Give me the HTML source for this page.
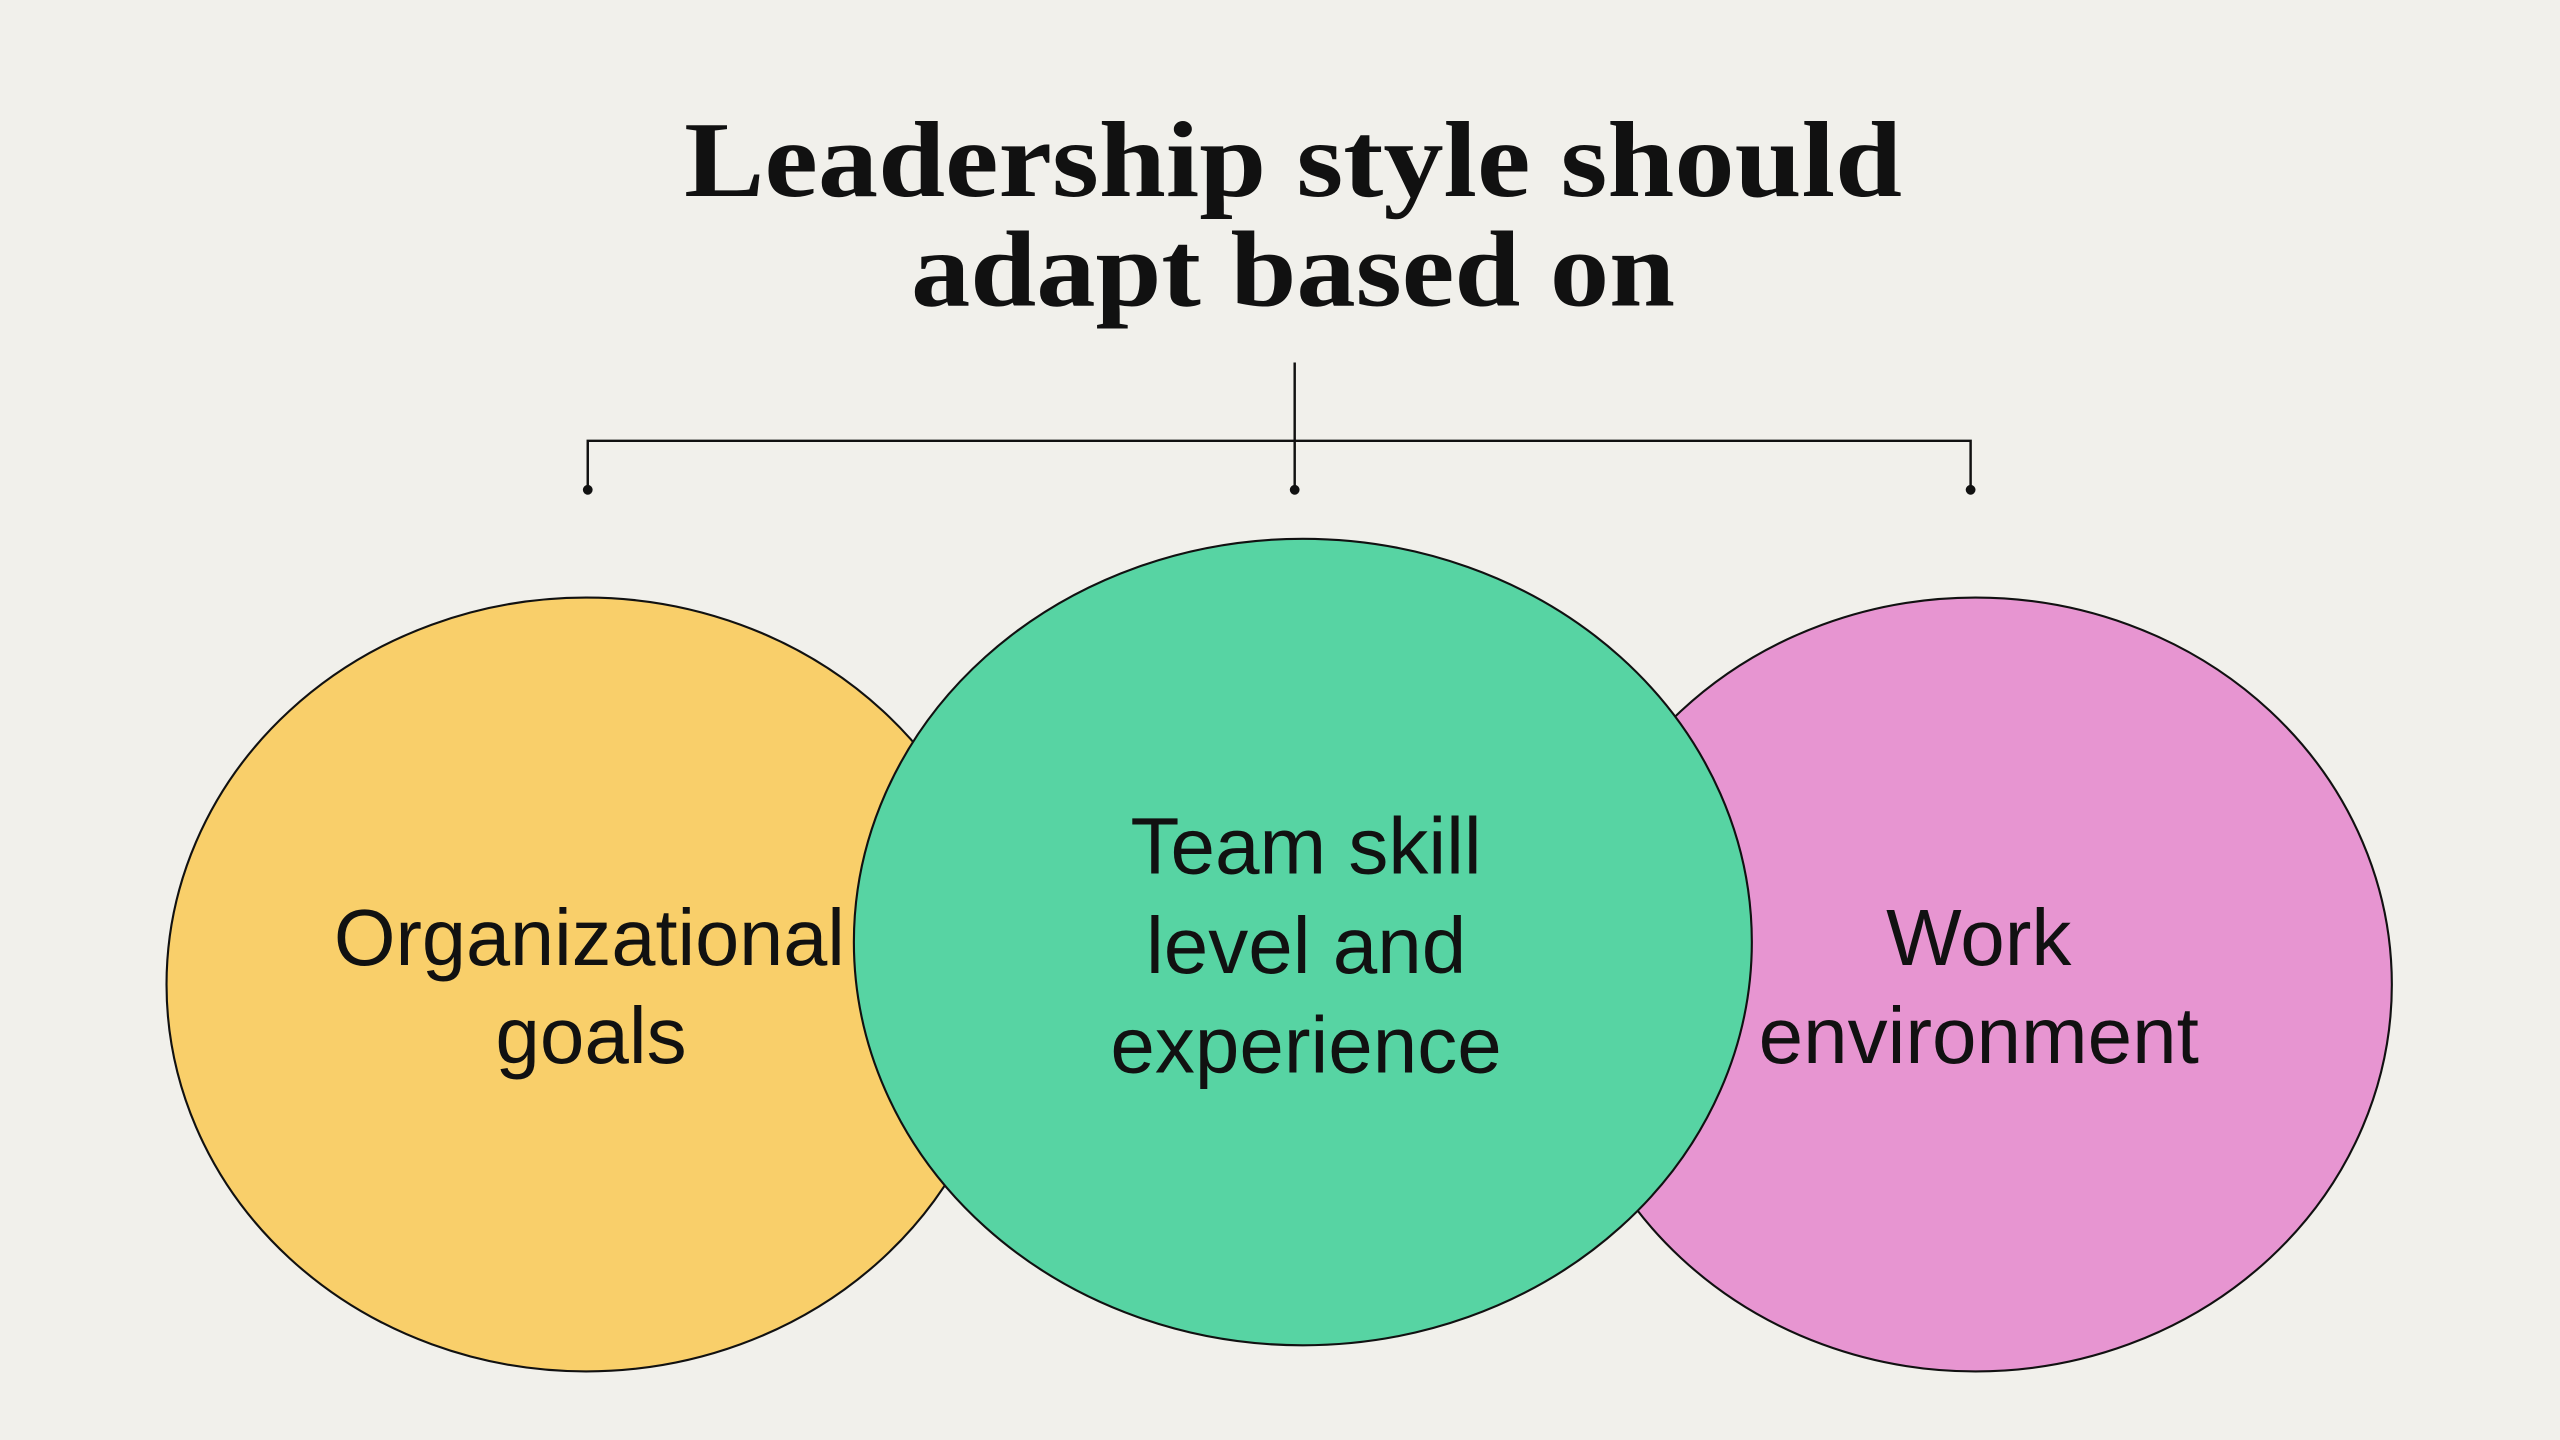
<!DOCTYPE html>
<html><head><meta charset="utf-8"><style>
html,body{margin:0;padding:0;background:#F1F0EB;}
svg{display:block;}
</style></head><body>
<svg width="2560" height="1440" viewBox="0 0 1568 882" xmlns="http://www.w3.org/2000/svg">
<rect width="1568" height="882" fill="#F1F0EB"/>
<text x="792" y="120" text-anchor="middle" font-family="Liberation Serif, serif" font-weight="bold" font-size="66" fill="#111" textLength="746" lengthAdjust="spacingAndGlyphs">Leadership style should</text>
<text x="792" y="187" text-anchor="middle" font-family="Liberation Serif, serif" font-weight="bold" font-size="66" fill="#111" textLength="468" lengthAdjust="spacingAndGlyphs">adapt based on</text>
<g stroke="#111" stroke-width="1.5" fill="none">
<line x1="793" y1="222" x2="793" y2="300"/>
<polyline points="360,300 360,270 1207,270 1207,300"/>
</g>
<g fill="#111"><circle cx="360" cy="300" r="3"/><circle cx="793" cy="300" r="3"/><circle cx="1207" cy="300" r="3"/></g>
<g stroke="#111" stroke-width="1.3">
<ellipse cx="359" cy="603" rx="257" ry="237" fill="#F9CF6A"/>
<ellipse cx="1210" cy="603" rx="255" ry="237" fill="#E795D1"/>
<ellipse cx="798" cy="577" rx="275" ry="247" fill="#57D4A3"/>
</g>
<g font-family="Liberation Sans, sans-serif" font-size="49" fill="#111" text-anchor="middle">
<text x="361" y="591" textLength="313" lengthAdjust="spacingAndGlyphs">Organizational</text>
<text x="362" y="651">goals</text>
<text x="800" y="535">Team skill</text>
<text x="800" y="596">level and</text>
<text x="800" y="657">experience</text>
<text x="1212" y="591">Work</text>
<text x="1212" y="651">environment</text>
</g>
</svg>
</body></html>
